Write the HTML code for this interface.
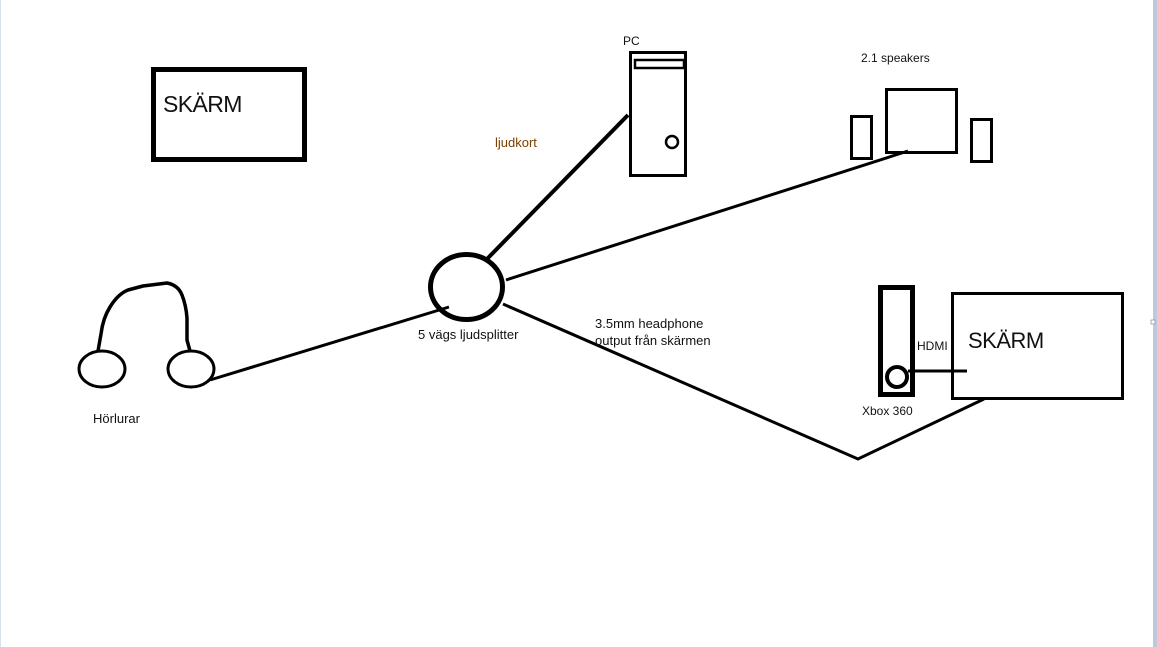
<!DOCTYPE html>
<html>
<head>
<meta charset="utf-8">
<style>
html,body{margin:0;padding:0;background:#fff;}
body{width:1157px;height:647px;overflow:hidden;position:relative;}
svg{position:absolute;left:0;top:0;}
text{font-family:"Liberation Sans",sans-serif;fill:#111;}
</style>
</head>
<body>
<svg width="1157" height="647" viewBox="0 0 1157 647" xmlns="http://www.w3.org/2000/svg">
  <rect x="0" y="0" width="1157" height="647" fill="#fff"/>
  <!-- left edge line -->
  <rect x="0" y="0" width="1" height="647" fill="#d6e2ef"/>
  <!-- right edge strip -->
  <rect x="1153" y="0" width="4" height="647" fill="#bccadb"/>
  <rect x="1151" y="320" width="4" height="4" fill="#fff" stroke="#8899aa" stroke-width="0.8"/>

  <!-- top-left SKÄRM -->
  <rect x="153.5" y="69.5" width="151" height="90" fill="none" stroke="#000" stroke-width="5"/>
  <text x="163" y="112" font-size="23" letter-spacing="-0.6">SKÄRM</text>

  <!-- PC -->
  <text x="623" y="45" font-size="12">PC</text>
  <rect x="630.5" y="52.5" width="55" height="123" fill="none" stroke="#000" stroke-width="3"/>
  <rect x="635" y="60" width="49" height="8" fill="none" stroke="#000" stroke-width="2.5"/>
  <circle cx="672" cy="142" r="6" fill="none" stroke="#000" stroke-width="2.5"/>

  <!-- ljudkort -->
  <text x="495" y="147" font-size="13" style="fill:#7a3e00">ljudkort</text>
  <line x1="628" y1="115" x2="487" y2="259" stroke="#000" stroke-width="4"/>

  <!-- splitter -->
  <ellipse cx="466.5" cy="287" rx="36" ry="32.5" fill="none" stroke="#000" stroke-width="5"/>
  <line x1="443" y1="264" x2="446" y2="261" stroke="#000" stroke-width="2"/>
  <text x="418" y="339" font-size="13">5 vägs ljudsplitter</text>

  <!-- speakers line -->
  <line x1="506" y1="280" x2="908" y2="151" stroke="#000" stroke-width="3"/>

  <!-- speakers -->
  <text x="861" y="62" font-size="12">2.1 speakers</text>
  <rect x="886.5" y="89.5" width="70" height="63" fill="none" stroke="#000" stroke-width="3"/>
  <rect x="851.5" y="116.5" width="20" height="42" fill="none" stroke="#000" stroke-width="3"/>
  <rect x="971.5" y="119.5" width="20" height="42" fill="none" stroke="#000" stroke-width="3"/>

  <!-- headphones line -->
  <line x1="210" y1="380" x2="449" y2="307" stroke="#000" stroke-width="3"/>

  <!-- headphones -->
  <ellipse cx="102" cy="369" rx="23" ry="18" fill="none" stroke="#000" stroke-width="3"/>
  <ellipse cx="191" cy="369" rx="23" ry="18" fill="none" stroke="#000" stroke-width="3"/>
  <path d="M98,351 L101,334 Q103,318 110,307 Q118,294 128,290 L143,286 L167,283 Q178,285 182,295 Q186,305 187,318 L187,340 L190,351" fill="none" stroke="#000" stroke-width="3.5" stroke-linejoin="round"/>
  <text x="93" y="423" font-size="13">Hörlurar</text>

  <!-- bottom line -->
  <polyline points="503,304 858,459 984,399" fill="none" stroke="#000" stroke-width="3"/>
  <text x="595" y="328" font-size="13">3.5mm headphone</text>
  <text x="595" y="345" font-size="13">output från skärmen</text>

  <!-- xbox -->
  <rect x="880.5" y="287.5" width="32" height="107" fill="none" stroke="#000" stroke-width="5"/>
  <circle cx="897" cy="377" r="10" fill="none" stroke="#000" stroke-width="4"/>
  <line x1="908" y1="371" x2="967" y2="371" stroke="#000" stroke-width="3"/>
  <text x="917" y="350" font-size="12">HDMI</text>
  <text x="862" y="415" font-size="12">Xbox 360</text>

  <!-- right SKÄRM -->
  <rect x="952.5" y="293.5" width="170" height="105" fill="none" stroke="#000" stroke-width="3"/>
  <text x="968" y="348" font-size="22" letter-spacing="-0.5">SKÄRM</text>
</svg>
</body>
</html>
